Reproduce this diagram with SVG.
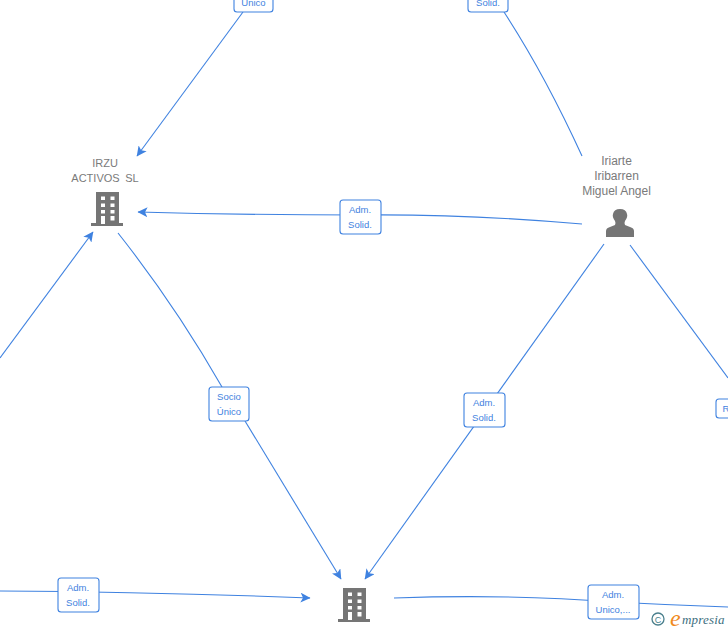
<svg xmlns="http://www.w3.org/2000/svg" width="728" height="630" viewBox="0 0 728 630">
<style>
.c{fill:none;stroke:#3f82e0;stroke-width:1.1}
.b{fill:#fff;stroke:#3f82e0;stroke-width:1.1}
.l{font:9.5px "Liberation Sans",Arial,sans-serif;fill:#3f82e0;text-anchor:middle}
.n{font:12px "Liberation Sans",Arial,sans-serif;fill:#7a7a7a;text-anchor:middle}
.i{fill:#757575}
.w{fill:#fff}
</style>
<defs>
<marker id="a" markerWidth="11" markerHeight="10" refX="9.500" refY="5" orient="auto" markerUnits="userSpaceOnUse"><path d="M0 0L10 5L0 10L2.500 5Z" fill="#3f82e0"/></marker>
<g id="bld">
<path class="i" d="M-11 -17H12V14H16V17H-16V14H-11Z"/>
<g class="w">
<rect x="-6" y="-12.500" width="4" height="3.500"/><rect x="3.500" y="-12.500" width="4" height="3.500"/>
<rect x="-6" y="-5.500" width="4" height="3.500"/><rect x="3.500" y="-5.500" width="4" height="3.500"/>
<rect x="-6" y="1" width="4" height="3.500"/><rect x="3.500" y="1" width="4" height="3.500"/>
<rect x="-6" y="7" width="4" height="8"/><rect x="3.500" y="7" width="4" height="4.500"/>
</g>
</g>
</defs>
<g id="connectors">
<path class="c" d="M243 12L137 156" marker-end="url(#a)"/>
<path class="c" d="M504 12Q545 75 582 156"/>
<path class="c" d="M582 224Q470 214 360 215Q250 215 138 212" marker-end="url(#a)"/>
<path class="c" d="M0 358L93 232" marker-end="url(#a)"/>
<path class="c" d="M118 233Q175 305 222 387"/>
<path class="c" d="M245 421L341 579" marker-end="url(#a)"/>
<path class="c" d="M604 244L365 579" marker-end="url(#a)"/>
<path class="c" d="M630 245L728 378"/>
<path class="c" d="M0 591Q160 592 310 598" marker-end="url(#a)"/>
<path class="c" d="M394 598Q510 594 613 602Q670 605 728 607"/>
</g>
<g id="lbl-top1"><rect class="b" x="234" y="-10" width="39" height="22" rx="3"/><text class="l" x="253.500" y="6">Único</text></g>
<g id="lbl-top2"><rect class="b" x="468" y="-10" width="40" height="22" rx="3"/><text class="l" x="488" y="6">Solid.</text></g>
<g id="lbl-adm1"><rect class="b" x="340" y="200" width="41" height="34" rx="3"/><text class="l" x="360" y="213">Adm.</text><text class="l" x="360" y="228">Solid.</text></g>
<g id="lbl-socio"><rect class="b" x="209" y="387" width="40" height="34" rx="3"/><text class="l" x="229" y="400">Socio</text><text class="l" x="229" y="415">Único</text></g>
<g id="lbl-adm2"><rect class="b" x="464" y="393" width="41" height="34" rx="3"/><text class="l" x="484" y="406">Adm.</text><text class="l" x="484" y="421">Solid.</text></g>
<g id="lbl-r"><rect class="b" x="716" y="399" width="20" height="19" rx="3"/><text class="l" x="726" y="412">R</text></g>
<g id="lbl-adm3"><rect class="b" x="58" y="578" width="41" height="34" rx="3"/><text class="l" x="78" y="591">Adm.</text><text class="l" x="78" y="606">Solid.</text></g>
<g id="lbl-adm4"><rect class="b" x="588" y="585" width="51" height="34" rx="3"/><text class="l" x="613" y="598">Adm.</text><text class="l" x="613" y="613">Unico,...</text></g>
<g id="node-irzu"><text class="n" x="105" y="167" style="font-size:11px">IRZU</text><text class="n" x="105" y="182" style="font-size:11px;word-spacing:2.500px">ACTIVOS SL</text><use href="#bld" x="107" y="209"/></g>
<g id="node-iriarte"><text class="n" x="616.500" y="165">Iriarte</text><text class="n" x="616.500" y="180">Iribarren</text><text class="n" x="616.500" y="195">Miguel Angel</text><path class="i" d="M606 237V231Q606 228 610 227L615 225Q616 223 615 221Q612 217 613 214Q614 209 620 209Q626 209 627 214Q628 217 625 221Q624 223 625 225L630 227Q634 228 634 231V237Z"/></g>
<g id="node-center"><use href="#bld" x="354" y="605"/></g>
<g id="logo"><circle cx="658" cy="619" r="6" fill="none" stroke="#4a7f8c" stroke-width="1.300"/><text x="658" y="622.500" style="font:9px 'Liberation Sans',sans-serif;fill:#4a7f8c;text-anchor:middle">C</text><text x="670" y="626" style="font:italic 24px 'Liberation Serif',serif;fill:#f08a1d">e</text><text x="682" y="624" style="font:italic 13px 'Liberation Serif',serif;fill:#3d6f80;letter-spacing:.2px">mpresia</text></g>
</svg>
